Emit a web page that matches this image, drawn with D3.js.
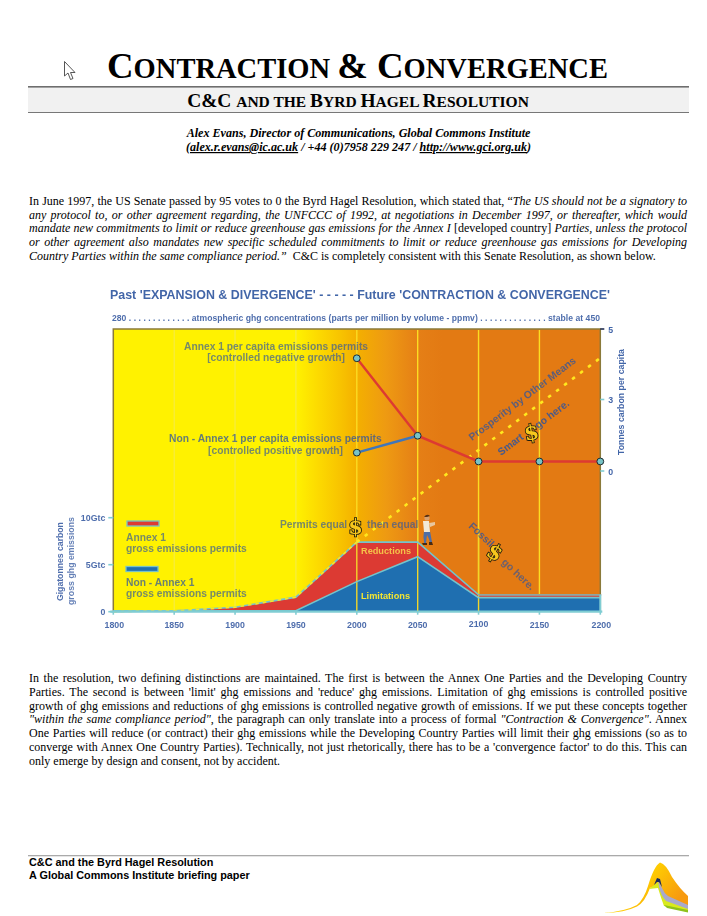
<!DOCTYPE html>
<html><head><meta charset="utf-8">
<script src="https://cdnjs.cloudflare.com/ajax/libs/d3/7.8.5/d3.min.js"></script>
<style>html,body{margin:0;padding:0;background:#fff;overflow:hidden}svg{display:block}</style>
</head><body><svg id="page" width="707" height="916"></svg>
<script>
// ---------- data ----------
const years = [1800,1850,1900,1950,2000,2050,2100,2150,2200];
const totalGross = [0,0.1,0.47,1.55,7.4,7.4,1.8,1.8,1.8];
const nonAnnexGross = [0.1,0.1,0.1,0.1,3.2,5.85,1.5,1.5,1.5];
const annexPerCapitaYears = [2000,2050,2100,2150,2200];
const annexPerCapita = [4.17,1.48,0.4,0.4,0.4];
const nonAnnexPerCapitaYears = [2000,2050];
const nonAnnexPerCapita = [0.77,1.48];
const prosperityYears = [2000,2200];
const prosperity = [7.4,27];
const leftTicks = [0,5,10];
const leftTickLabels = ['0','5Gtc','10Gtc'];
const rightTicks = [0,3,5];
const introLines = [
 [["In June 1997, the US Senate passed by 95 votes to 0 the Byrd Hagel Resolution, which stated that, “",0],["The US should not be a signatory to",1]],
 [["any protocol to, or other agreement regarding, the UNFCCC of 1992, at negotiations in December 1997, or thereafter, which would",1]],
 [["mandate new commitments to limit or reduce greenhouse gas emissions for the Annex I ",1],["[developed country] ",0],["Parties, unless the protocol",1]],
 [["or other agreement also mandates new specific scheduled commitments to limit or reduce greenhouse gas emissions for Developing",1]],
 [["Country Parties within the same compliance period.”",1],["  C&C is completely consistent with this Senate Resolution, as shown below.",0]]
];
const outroLines = [
 [["In the resolution, two defining distinctions are maintained. The first is between the Annex One Parties and the Developing Country",0]],
 [["Parties. The second is between 'limit' ghg emissions and 'reduce' ghg emissions. Limitation of ghg emissions is controlled positive",0]],
 [["growth of ghg emissions and reductions of ghg emissions is controlled negative growth of emissions. If we put these concepts together",0]],
 [["\"within the same compliance period\"",1],[", the paragraph can only translate into a process of formal ",0],["\"Contraction & Convergence\"",1],[". Annex",0]],
 [["One Parties will reduce (or contract) their ghg emissions while the Developing Country Parties will limit their ghg emissions (so as to",0]],
 [["converge with Annex One Country Parties). Technically, not just rhetorically, there has to be a 'convergence factor' to do this. This can",0]],
 [["only emerge by design and consent, not by accident.",0]]
];
// ---------- helpers ----------
const svg = d3.select('#page');
const SERIF = '"Liberation Serif","Times New Roman",serif', SANS = '"Liberation Sans",Arial,sans-serif';
function para(lines, y0, lh, x0, x1, size){
  lines.forEach((segs,i)=>{
    const t = svg.append('text').attr('x',x0).attr('y',y0+i*lh).attr('font-family',SERIF).attr('font-size',size).attr('fill','#000').style('white-space','pre');
    segs.forEach(s=>t.append('tspan').attr('font-style',s[1]?'italic':'normal').text(s[0]));
    if(i<lines.length-1){
      const txt = segs.map(s=>s[0]).join('');
      const gaps = (txt.match(/ /g)||[]).length;
      const w = t.node().getComputedTextLength();
      t.style('word-spacing',((x1-x0-w)/gaps)+'px');
    }
  });
}
function smallCaps(parts, cx, y, big, small, width){
  const t = svg.append('text').attr('x',cx).attr('y',y).attr('text-anchor','middle').attr('font-family',SERIF).attr('font-weight','bold').attr('fill','#000');
  const spans = parts.map(p=>t.append('tspan').attr('font-size',p[1]?big:small).text(p[0]));
  const k = width/t.node().getComputedTextLength();
  spans.forEach((s,i)=>s.attr('font-size',(parts[i][1]?big:small)*k));
  return t;
}
// ---------- header ----------
smallCaps([["C",1],["ONTRACTION ",0],["& C",1],["ONVERGENCE",0]],357.5,77.5,38,29.5,501);
svg.append('rect').attr('x',28).attr('y',87).attr('width',661).attr('height',25).attr('fill','#f1f1f1');
svg.append('rect').attr('x',28).attr('y',86).attr('width',661).attr('height',1.6).attr('fill','#6e6e6e');
svg.append('rect').attr('x',28).attr('y',112).attr('width',661).attr('height',1).attr('fill','#777');
smallCaps([["C&C ",1],["AND THE ",0],["B",1],["YRD ",0],["H",1],["AGEL ",0],["R",1],["ESOLUTION",0]],358,107,17.5,14,342);
const bylineStyle = s=>s.attr('text-anchor','middle').attr('font-family',SERIF).attr('font-weight','bold').attr('font-style','italic').attr('font-size',12.1);
bylineStyle(svg.append('text').attr('x',358.5).attr('y',137)).text('Alex Evans, Director of Communications, Global Commons Institute');
const bl = bylineStyle(svg.append('text').attr('x',358.5).attr('y',151));
bl.append('tspan').text('(');
bl.append('tspan').attr('text-decoration','underline').text('alex.r.evans@ic.ac.uk');
bl.append('tspan').text(' / +44 (0)7958 229 247 / ');
bl.append('tspan').attr('text-decoration','underline').text('http://www.gci.org.uk');
bl.append('tspan').text(')');
// cursor
svg.append('path').attr('d','M64.5 61.5 L64.5 76 L68 73 L70.5 79.5 L73 78.5 L70.5 72.5 L75 72.5 Z').attr('fill','#fff').attr('stroke','#444').attr('stroke-width',0.9);
// paragraphs
para(introLines,205,13.7,29,687,12);
para(outroLines,682,13.75,29,687,12);
// ---------- chart ----------
const x = d3.scaleLinear().domain([1800,2200]).range([113.3,600.3]);
const yL = d3.scaleLinear().domain([0,10]).range([611.7,517.7]);
const yR = d3.scaleLinear().domain([0,3,5]).range([471,399.5,329]);
const plotTop = yR(5), base = yL(0);
const defs = svg.append('defs');
const grad = defs.append('linearGradient').attr('id','bg').attr('gradientUnits','userSpaceOnUse').attr('x1',x(1800)).attr('x2',x(2200)).attr('y1',0).attr('y2',0);
[[1800,'#fff200'],[1950,'#fff200'],[1970,'#fcd800'],[1986,'#f8c400'],[2000,'#f4b000'],[2024,'#ee9a12'],[2050,'#e57f16'],[2070,'#e37a13'],[2200,'#e37a13']]
 .forEach(d=>grad.append('stop').attr('offset',(d[0]-1800)/400).attr('stop-color',d[1]));
const blur = defs.append('filter').attr('id','soft').attr('x','-5%').attr('y','-20%').attr('width','110%').attr('height','140%');
blur.append('feGaussianBlur').attr('stdDeviation',0.3);
const g = svg.append('g');
g.append('rect').attr('x',x(1800)).attr('y',plotTop).attr('width',x(2200)-x(1800)).attr('height',base-plotTop).attr('fill','url(#bg)');
g.append('path').attr('d',d3.line()([[x(1800),base],[x(1800),plotTop],[x(2200),plotTop],[x(2200),base]])).attr('fill','none').attr('stroke','#8a7a3a').attr('stroke-width',1.5);
years.slice(1,-1).forEach(yr=>{
  g.append('line').attr('x1',x(yr)).attr('x2',x(yr)).attr('y1',plotTop+1).attr('y2',base)
   .attr('stroke',yr<2000?'#f3ea50':'#fbdc22').attr('stroke-width',yr<2000?1:1.4);
});
const idx = d3.range(years.length);
const areaTotal = d3.area().x(i=>x(years[i])).y0(()=>yL(0)).y1(i=>yL(totalGross[i]));
const areaNon = d3.area().x(i=>x(years[i])).y0(()=>yL(0)).y1(i=>yL(nonAnnexGross[i]));
g.append('path').attr('d',areaTotal(idx)).attr('fill','#dc3a33');
g.append('path').attr('d',areaNon(idx)).attr('fill','#1f6fb0');
[2000,2050,2100].forEach(yr=>g.append('line').attr('x1',x(yr)).attr('x2',x(yr)).attr('y1',yL(9)).attr('y2',base).attr('stroke','#f2d52a').attr('stroke-width',1.4));
const lineTotal = d3.line().x(i=>x(years[i])).y(i=>yL(totalGross[i]));
const lineNon = d3.line().x(i=>x(years[i])).y(i=>yL(nonAnnexGross[i]));
g.append('path').attr('d',lineTotal(idx)).attr('fill','none').attr('stroke','#74c4cc').attr('stroke-width',1.6);
g.append('path').attr('d',lineNon(idx)).attr('fill','none').attr('stroke','#74c4cc').attr('stroke-width',1.6);
g.append('path').attr('d',lineTotal(idx.slice(0,5))).attr('fill','none').attr('stroke','#ffe81e').attr('stroke-width',1.5).attr('stroke-dasharray','3.5 4');
g.append('line').attr('x1',x(1800)-3).attr('x2',x(2200)+2).attr('y1',base).attr('y2',base).attr('stroke','#80cdd3').attr('stroke-width',2.2);
g.append('line').attr('x1',x(2100)).attr('x2',x(2200)+1).attr('y1',yL(totalGross[8])).attr('y2',yL(totalGross[8])).attr('stroke','#8fa7a0').attr('stroke-width',1.6);
g.append('line').attr('x1',x(2200)).attr('x2',x(2200)).attr('y1',yL(totalGross[8])).attr('y2',base).attr('stroke','#80cdd3').attr('stroke-width',2);
const linePros = d3.line().x((d,i)=>x(prosperityYears[i])).y(d=>yL(d));
g.append('path').attr('d',linePros(prosperity)).attr('fill','none').attr('stroke','#ffe81e').attr('stroke-width',2.6).attr('stroke-dasharray','3.5 6.5');
const lineA = d3.line().x((d,i)=>x(annexPerCapitaYears[i])).y(d=>yR(d));
const lineN = d3.line().x((d,i)=>x(nonAnnexPerCapitaYears[i])).y(d=>yR(d));
g.append('path').attr('d',lineN(nonAnnexPerCapita)).attr('fill','none').attr('stroke','#3f76bb').attr('stroke-width',2.4);
g.append('path').attr('d',lineA(annexPerCapita)).attr('fill','none').attr('stroke','#dd3a32').attr('stroke-width',2.4);
const pts = annexPerCapitaYears.map((y,i)=>[y,annexPerCapita[i]]).concat([[nonAnnexPerCapitaYears[0],nonAnnexPerCapita[0]]]);
g.selectAll('circle.pt').data(pts).join('circle').attr('class','pt').attr('cx',d=>x(d[0])).attr('cy',d=>yR(d[1])).attr('r',3.4).attr('fill','#78c3c6').attr('stroke','#1d2b30').attr('stroke-width',1);
g.selectAll('line.xt').data(years).join('line').attr('class','xt').attr('x1',d=>x(d)).attr('x2',d=>x(d)).attr('y1',base).attr('y2',base+3).attr('stroke','#80cdd3').attr('stroke-width',1.6);
g.selectAll('line.lt').data(leftTicks).join('line').attr('class','lt').attr('x1',x(1800)-5).attr('x2',x(1800)).attr('y1',d=>yL(d)).attr('y2',d=>yL(d)).attr('stroke','#80cdd3').attr('stroke-width',1.6);
g.selectAll('line.rt').data(rightTicks).join('line').attr('class','rt').attr('x1',x(2200)).attr('x2',x(2200)+4).attr('y1',d=>yR(d)).attr('y2',d=>yR(d)).attr('stroke',d=>d===5?'#1d2b50':'#80cdd3').attr('stroke-width',1.6);
// text in chart
const T = g.append('g').attr('font-family',SANS).attr('font-weight','bold').attr('filter','url(#soft)');
const BLUE='#2f549e';
function lab(s,px,py,size,anchor,fill,op,rot){
  const t=T.append('text').attr('font-size',size).attr('text-anchor',anchor||'start').attr('fill',fill||BLUE).attr('fill-opacity',op==null?1:op).text(s);
  if(rot!=null) t.attr('transform',`translate(${px},${py}) rotate(${rot})`); else t.attr('x',px).attr('y',py);
  return t;
}
lab("Past 'EXPANSION & DIVERGENCE' - - - - - Future 'CONTRACTION & CONVERGENCE'",110,299,12.4,'start',BLUE,.9).attr('textLength',500).attr('lengthAdjust','spacingAndGlyphs');
lab("280 . . . . . . . . . . . . . atmospheric ghg concentrations (parts per million by volume - ppmv) . . . . . . . . . . . . . . stable at 450",112,320.5,8.6,'start',BLUE,.85).attr('textLength',488).attr('lengthAdjust','spacing');
const LS=10.25;
lab("Annex 1 per capita emissions permits",184,350,LS,'start',BLUE,.66);
lab("[controlled negative growth]",345,361.3,LS,'end',BLUE,.66);
lab("Non - Annex 1 per capita emissions permits",169,442,LS,'start',BLUE,.74);
lab("[controlled positive growth]",343,453.5,LS,'end',BLUE,.66);
lab("Prosperity by Other Means",472,441,10.3,'start',BLUE,.75,-37);
lab("Smart",501,456,10.3,'start',BLUE,.85,-37);
lab("go here.",538,429,10.3,'start',BLUE,.85,-37);
lab("Permits equal",280,528,LS,'start',BLUE,.66);
lab("then equal",367,528,LS,'start',BLUE,.66);
lab("Fossil",468,527,10.5,'start',BLUE,.78,43);
lab("go here.",501,563,10.5,'start',BLUE,.66,43);
lab("Reductions",361,554,9.2,'start','#f4c24a');
lab("Limitations",361,599,9.2,'start','#f3e531');
lab("Annex 1",126,540.5,LS,'start',BLUE,.66);
lab("gross emissions permits",126,552,LS,'start',BLUE,.66);
lab("Non - Annex 1",126,586,LS,'start',BLUE,.72);
lab("gross emissions permits",126,597.3,LS,'start',BLUE,.66);
[[127,521,'#dd3a32'],[126,566.5,'#1f6fb0']].forEach(d=>g.append('rect').attr('x',d[0]).attr('y',d[1]).attr('width',32).attr('height',5).attr('fill',d[2]).attr('stroke','#78c3c6').attr('stroke-width',1.3));
years.forEach(y=>{ lab(String(y),x(y)+(y===1800?1:y===2200?1:0),y===2100?627:628,8.8,'middle',BLUE,.85); });
leftTicks.forEach((v,i)=>lab(leftTickLabels[i],x(1800)-8,yL(v)+3,8.8,'end',BLUE,.85));
rightTicks.forEach(v=>lab(String(v),x(2200)+8,yR(v)+3.5,8.8,'start',BLUE,.9));
lab("Gigatonnes carbon",63,601,8.8,'start',BLUE,.85,-90).attr('textLength',79);
lab("gross ghg emissions",74,605,8.8,'start',BLUE,.75,-90).attr('textLength',88);
lab("Tonnes carbon per capita",624,455,8.8,'start',BLUE,.9,-90).attr('textLength',106);
// dollar icons
function dollar(px,py,rot){
  const gg=g.append('g').attr('transform',`translate(${px},${py}) rotate(${rot||0})`);
  gg.append('text').attr('text-anchor','middle').attr('y',7.5).attr('font-family','"DejaVu Serif",serif').attr('font-weight','bold').attr('font-size',21)
   .attr('fill','#f7c71d').attr('stroke','#1b1b10').attr('stroke-width',1.7).attr('paint-order','stroke').text('$');
}
dollar(355.5,526,0);
dollar(531.5,432,-10);
dollar(495,552,30);
// man
const m=g.append('g').attr('transform',`translate(427,527)`);
m.append('path').attr('d','M-3 4 L-4 14 L-3 10 L-3 16 L-1 16 L0 8 L2 12 L3 16 L5 15 L3 4Z').attr('fill','#4d6ea8');
m.append('path').attr('d','M-4 -6 L2 -6 L3 5 L-3 5Z').attr('fill','#f2e9d8');
m.append('path').attr('d','M2 -4 L8 -5 L8 -2 L3 0Z').attr('fill','#e8c7a0');
m.append('circle').attr('cy',-9).attr('r',2.6).attr('fill','#d8a070');
m.append('path').attr('d','M-3 -10 Q0 -14 3 -11 L0 -10Z').attr('fill','#5a3214');
m.append('path').attr('d','M-5 16 L0 16 L0 18 L-4 18Z M2 15 L5 15 L6 18 L2 18Z').attr('fill','#4a2a10');
// ---------- footer ----------
svg.append('rect').attr('x',28).attr('y',855).attr('width',661).attr('height',1.3).attr('fill','#aaa');
svg.append('text').attr('x',29).attr('y',866).attr('font-family',SANS).attr('font-weight','bold').attr('font-size',10.85).text('C&C and the Byrd Hagel Resolution');
svg.append('text').attr('x',29).attr('y',879).attr('font-family',SANS).attr('font-weight','bold').attr('font-size',10.85).text('A Global Commons Institute briefing paper');
// logo
const lg=defs.append('linearGradient').attr('id','lg').attr('x1',0).attr('x2',1).attr('y1',0).attr('y2',.5);
lg.append('stop').attr('offset',0).attr('stop-color','#ffef00');lg.append('stop').attr('offset',.5).attr('stop-color','#ffd000');lg.append('stop').attr('offset',1).attr('stop-color','#f79a10');
const L=svg.append('g');
L.append('path').attr('d','M603 913 Q625 911.5 637 905 Q644 899 648 886 Q654 866 660 862.5 Q666 864 672 877 Q680 889 688 896 L688 907 L668 898 Q662 892 659 884 L650 888 Q645 902 637 906.5 Q625 912.5 603 913Z').attr('fill','url(#lg)');
L.append('path').attr('d','M649 889 L658 882 L663 892 L668 899 L688 908 L688 912 L664 906 Q661 898 658 888Z').attr('fill','#d9ea1c');
L.append('path').attr('d','M658 880 L662 888 Q664 893 668 896 L688 905 L688 909 L666 901 Q661 896 659 887Z').attr('fill','#a9a9cc');
L.append('path').attr('d','M654 885 L657 878 L660 879 L662 887 L659 882 L657 882Z').attr('fill','#16285e');
L.append('path').attr('d','M664 905 L688 910 L688 912.5 L667 908Z').attr('fill','#8fc21c');
</script></body></html>
